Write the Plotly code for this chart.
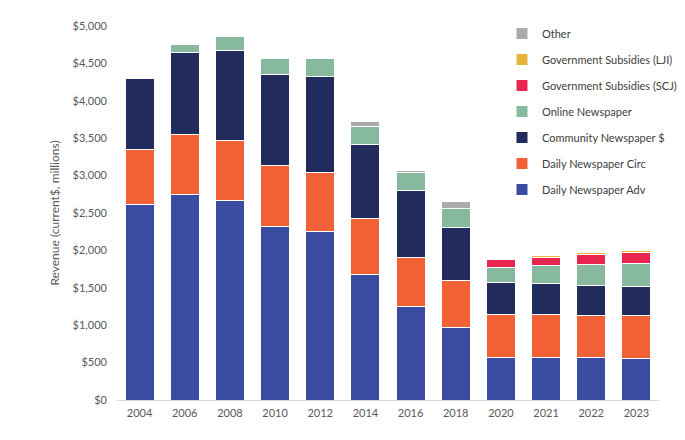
import plotly.graph_objects as go

years = ["2004", "2006", "2008", "2010", "2012", "2014", "2016", "2018",
         "2020", "2021", "2022", "2023"]

# revenue, current $ millions
daily_adv = [2609, 2742, 2662, 2320, 2257, 1676, 1253, 969, 569, 569, 569, 560]
daily_circ = [746, 814, 814, 813, 787, 755, 654, 627, 578, 573, 564, 569]
community = [947, 1088, 1200, 1223, 1285, 991, 897, 706, 430, 414, 404, 391]
online = [0, 112, 182, 208, 235, 240, 232, 262, 200, 240, 272, 311]
subs_scj = [0, 0, 0, 0, 0, 0, 0, 0, 103, 115, 138, 138]
subs_lji = [0, 0, 0, 0, 0, 0, 0, 0, 10, 25, 26, 31]
other = [0, 0, 0, 0, 0, 58, 35, 93, 0, 0, 0, 0]

series = [
    ("Daily Newspaper Adv", daily_adv, "#3a4ca0"),
    ("Daily Newspaper Circ", daily_circ, "#f26135"),
    ("Community Newspaper $", community, "#212b5c"),
    ("Online Newspaper", online, "#86b99e"),
    ("Government Subsidies (SCJ)", subs_scj, "#e8254e"),
    ("Government Subsidies (LJI)", subs_lji, "#e9b43a"),
    ("Other", other, "#ababab"),
]

fig = go.Figure()
for i, (name, vals, col) in enumerate(series):
    fig.add_trace(go.Bar(
        x=years, y=vals, name=name, legendgroup=name,
        legendrank=1000 - i,  # top trace first in legend
        marker=dict(color=col, line=dict(color="white", width=1)),
    ))

# page body has an 8px margin, margins below allow for it
fig.update_layout(
    barmode="stack",
    bargap=0.36,
    width=685, height=440,
    margin=dict(l=109, r=33, t=17, b=48),
    paper_bgcolor="white",
    plot_bgcolor="white",
    font=dict(family="Lato", size=11, color="#595959"),
    showlegend=True,
    legend=dict(
        x=0.709, y=1.016, xanchor="left", yanchor="top",
        traceorder="grouped", tracegroupgap=7,
        font=dict(size=11, color="#404040"),
        bgcolor="rgba(0,0,0,0)",
    ),
    xaxis=dict(
        showline=True, linecolor="#d9d9d9", linewidth=1,
        ticks="", ticklabelstandoff=3,
        tickfont=dict(size=11, color="#595959"),
    ),
    yaxis=dict(
        range=[0, 5000], dtick=500, tickprefix="$", tickformat=",",
        showgrid=False, zeroline=False, showline=False,
        ticks="", ticklabelstandoff=9,
        tickfont=dict(size=11, color="#595959"),
        title=dict(text="Revenue (current$, millions)",
                   font=dict(size=12, color="#595959"), standoff=10),
    ),
)

fig.write_html("out.html")
